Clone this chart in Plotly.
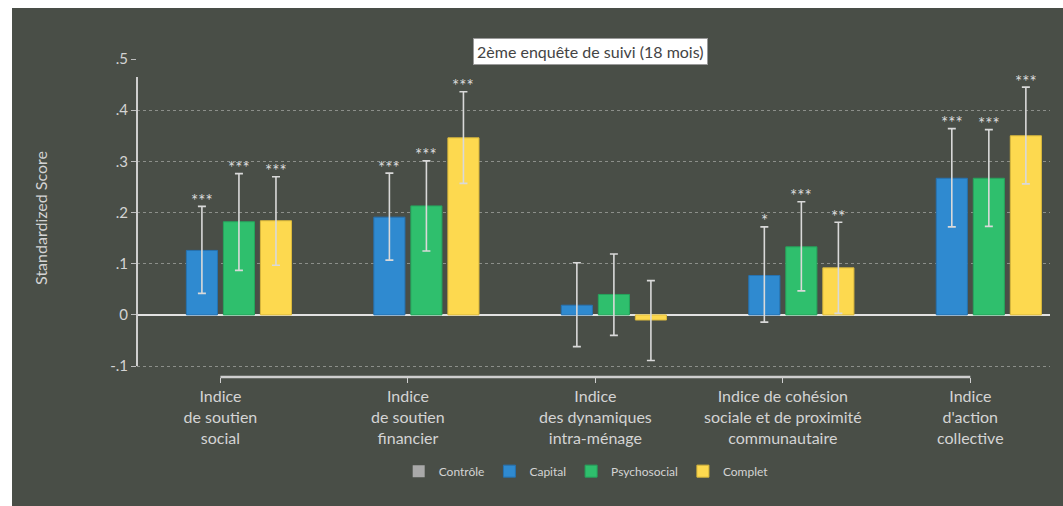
import plotly.graph_objects as go

categories = ["Indice<br>de soutien<br>social",
              "Indice<br>de soutien<br>financier",
              "Indice<br>des dynamiques<br>intra-ménage",
              "Indice de cohésion<br>sociale et de proximité<br>communautaire",
              "Indice<br>d'action<br>collective"]

controle = [0, 0, 0, 0, 0]
capital = [0.126, 0.191, 0.019, 0.077, 0.267]
capital_hi = [0.212, 0.277, 0.102, 0.172, 0.364]
capital_lo = [0.042, 0.107, -0.062, -0.014, 0.172]
capital_sig = ["***", "***", "", "*", "***"]

psycho = [0.182, 0.213, 0.040, 0.133, 0.267]
psycho_hi = [0.276, 0.301, 0.119, 0.221, 0.362]
psycho_lo = [0.087, 0.125, -0.040, 0.047, 0.173]
psycho_sig = ["***", "***", "", "***", "***"]

complet = [0.184, 0.346, -0.010, 0.092, 0.350]
complet_hi = [0.270, 0.436, 0.067, 0.181, 0.445]
complet_lo = [0.097, 0.257, -0.089, 0.003, 0.256]
complet_sig = ["***", "***", "", "**", "***"]

yticks = [0.5, 0.4, 0.3, 0.2, 0.1, 0, -0.1]
yticktext = [".5", ".4", ".3", ".2", ".1", "0", "-.1"]

BG = "#494e47"
TXT = "#d4d4d4"
FONT = "Lato"
BARGAP = 0.21

fig = go.Figure()

series = [
    ("Contrôle", controle, None, None, "#a9a9a9", "#a9a9a9"),
    ("Capital", capital, capital_hi, capital_lo, "#2f8ad0", "#2672b0"),
    ("Psychosocial", psycho, psycho_hi, psycho_lo, "#2fbf6d", "#26a35c"),
    ("Complet", complet, complet_hi, complet_lo, "#fdd94f", "#d9b83c"),
]

for name, vals, hi, lo, col, lcol in series:
    kw = {}
    if hi is not None:
        kw["error_y"] = dict(type="data", symmetric=False,
                             array=[h - v for h, v in zip(hi, vals)],
                             arrayminus=[v - l for l, v in zip(lo, vals)],
                             color="#d9d9d9", thickness=1.6, width=4)
    fig.add_trace(go.Bar(name=name, x=list(range(len(categories))), y=vals,
                         marker=dict(color=col,
                                     line=dict(color=lcol, width=0 if hi is None else 1)),
                         **kw))

# significance stars
slot = (1 - BARGAP) / 4
for idx, (hi, sig) in enumerate([(capital_hi, capital_sig), (psycho_hi, psycho_sig),
                                 (complet_hi, complet_sig)]):
    off = (idx + 1 - 1.5) * slot
    for i, (h, s) in enumerate(zip(hi, sig)):
        if s:
            fig.add_annotation(x=i + off, y=h, xref="x", yref="y", text=s,
                               showarrow=False, yshift=6,
                               font=dict(family=FONT, size=17, color="#dcdcdc"))

shapes = [
    dict(type="rect", xref="paper", yref="paper", x0=-0.1369, x1=1.02,
         y0=-0.42, y1=1.160, fillcolor=BG, line=dict(width=0), layer="below"),
    dict(type="line", xref="x", yref="paper", x0=0, x1=len(categories) - 1,
         y0=0, y1=0, line=dict(color="#cfcfcf", width=2.5)),
    dict(type="line", xref="paper", yref="y", x0=0, x1=0, y0=-0.1, y1=0.465,
         line=dict(color="#cfcfcf", width=2)),
]

fig.update_layout(
    width=1063, height=506,
    margin=dict(l=137, r=13, t=59, b=129),
    paper_bgcolor="white", plot_bgcolor="rgba(0,0,0,0)",
    barmode="group", bargap=BARGAP, bargroupgap=0.16,
    shapes=shapes,
    font=dict(family=FONT, color=TXT),
    showlegend=True,
    legend=dict(orientation="h", x=0.492, y=-0.296, xanchor="center",
                yanchor="middle", font=dict(size=12, color=TXT),
                bgcolor="rgba(0,0,0,0)", itemwidth=30, tracegroupgap=0),
    xaxis=dict(range=[-0.445, 4.425], tickvals=list(range(len(categories))),
               ticktext=categories, showgrid=False, showline=False,
               zeroline=False, ticks="outside", ticklen=5, tickcolor="#cfcfcf",
               tickwidth=1, tickfont=dict(size=16, color=TXT)),
    yaxis=dict(range=[-0.1213, 0.5], tickvals=yticks, ticktext=yticktext,
               showgrid=True, gridcolor="#8c8f8a", griddash="dot", gridwidth=1,
               zeroline=True, zerolinecolor="#e2e2e2", zerolinewidth=2,
               showline=False, ticks="outside", ticklen=5, tickcolor="#bdbdbd",
               tickfont=dict(size=15, color=TXT),
               title=dict(text="Standardized Score", standoff=58,
                          font=dict(size=16, color=TXT))),
)

fig.add_annotation(x=0.497, y=1.066, xref="paper", yref="paper",
                   text="2ème enquête de suivi (18 mois)", showarrow=False,
                   bgcolor="white", bordercolor="#9a9a9a", borderwidth=1,
                   borderpad=3, font=dict(family=FONT, size=16, color="#444444"))

fig.write_html("out.html", config={"displayModeBar": False},
               post_script="document.body.style.margin='0';document.body.style.overflow='hidden';")
